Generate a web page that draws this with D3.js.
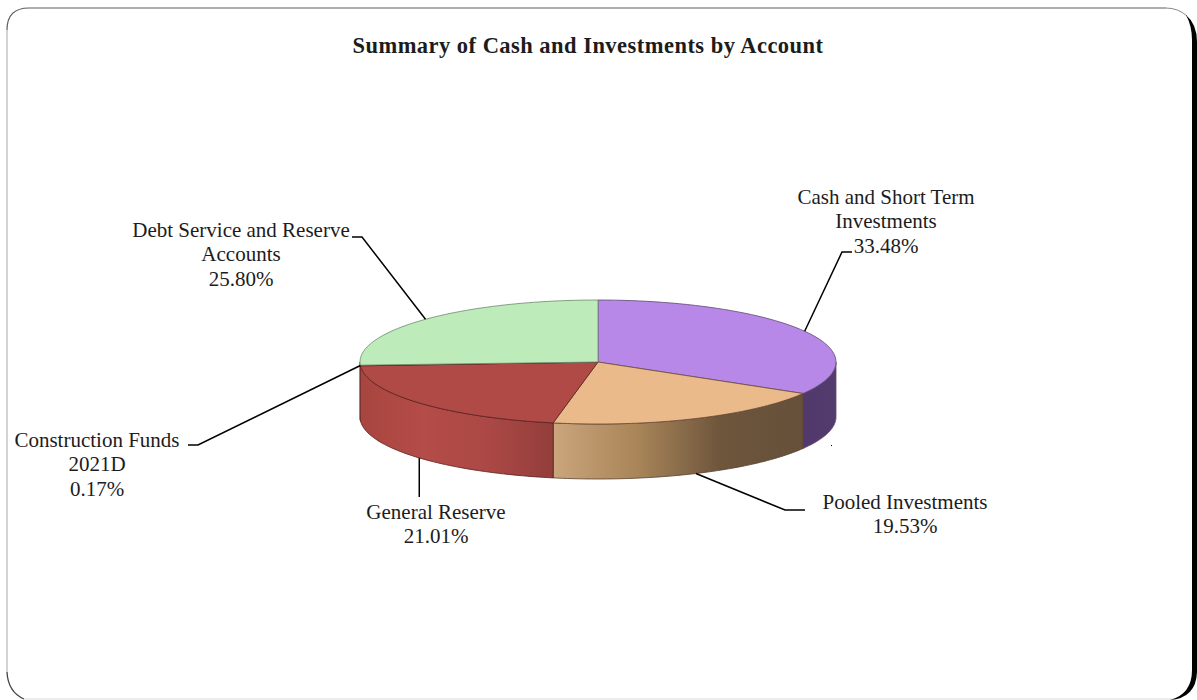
<!DOCTYPE html>
<html>
<head>
<meta charset="utf-8">
<script src="https://cdn.jsdelivr.net/npm/d3@7"></script>
<style>
    html, body { margin: 0; padding: 0; background: #fff; }
    svg { display: block; }
    text { font-family: "Liberation Serif", serif; fill: #1c1c1c; }
</style>
</head>
<body>
<div id="container"></div>
<script>
'use strict';

const w = 1197;
const h = 700;

// Values, clockwise from 12 o'clock.
const accounts = ['Cash and Short Term Investments', 'Pooled Investments', 'General Reserve', 'Construction Funds 2021D', 'Debt Service and Reserve Accounts'];
const shares = [33.48, 19.53, 21.01, 0.17, 25.80];
const labelLines = [
    ['Cash and Short Term', 'Investments', '33.48%'],
    ['Pooled Investments', '19.53%'],
    ['General Reserve', '21.01%'],
    ['Construction Funds', '2021D', '0.17%'],
    ['Debt Service and Reserve', 'Accounts', '25.80%']
];
const chartTitle = 'Summary of Cash and Investments by Account';

// Styling and label placement.
const topColors = ['#b888e9', '#ebba8b', '#b04a47', '#8f3f3d', '#bdebb9'];
const wallStops = [
    ['#52396b', '#533b6e'],
    ['#cba57c', '#a98559', '#6e563c', '#66503a'],
    ['#a8453f', '#b44c48', '#ab4845', '#933e3c'],
    ['#a8453f', '#a8453f'],
    ['#a8453f', '#a8453f']
];
const strokes = ['#5f4a70', '#6a4a35', '#5a1f1e', '#5a1f1e', '#6f8a6c'];
const wallStrokes = ['#5f4a70', '#5a4030', '#5a1f1e', '#7a3330', '#7a3330'];
const labelX = [886, 905, 436, 97, 241];
const labelY = [204, 508.5, 518.5, 447, 237];
// Elbow of each leader: outer x, inner x (null follows the slice), y.
const elbows = [[852, 842, 252], [805, 785, 510], [null, null, 497], [188, 198, 445], [352, 362, 237]];

const cx = 598;
const cy = 362;
const rx = 238;
const ry = 62;
const depth = 55;
const lineGap = 24.4;

const svg = d3.select('#container')
    .append('svg')
    .attr('width', w)
    .attr('height', h)
    .attr('viewBox', '0 0 ' + w + ' ' + h);

// Card frame: dark top, pale left and bottom, heavy right side.
const frame = svg.append('g').attr('fill', 'none');
frame.append('path').attr('d', 'M7,30 V672').attr('stroke', '#c4c4c4').attr('stroke-width', 1.5);
frame.append('path').attr('d', 'M7,30 Q7,8 29,8 H1166').attr('stroke', '#5c5c5c').attr('stroke-width', 1.2);
frame.append('path').attr('d', 'M1166,8 Q1178,8 1187,16').attr('stroke', '#888').attr('stroke-width', 1);
frame.append('path').attr('d', 'M7,672 Q8,692 24,699').attr('stroke', '#444').attr('stroke-width', 1.3);
frame.append('path').attr('d', 'M24,699 H1172').attr('stroke', '#dcdcdc').attr('stroke-width', 1.2);
svg.append('path')
    .attr('d', 'M1186,15 Q1197,24 1197,42 V672 Q1196,698 1170,700 Q1192,694 1192,670 V40 Q1192,26 1186,15 Z')
    .attr('fill', '#000');

// Title.
svg.append('text')
    .attr('x', 588)
    .attr('y', 53)
    .attr('text-anchor', 'middle')
    .attr('font-size', 22.5)
    .attr('font-weight', 'bold')
    .attr('letter-spacing', 0.47)
    .text(chartTitle);

// Pie layout: angles run clockwise from the top.
const slices = d3.pie().sort(null).value(d => d)(shares);

const xScale = d3.scaleLinear().domain([-1, 1]).range([cx - rx, cx + rx]);
const yScale = d3.scaleLinear().domain([-1, 1]).range([cy - ry, cy + ry]);

const rimPoint = (a, drop) => [xScale(Math.sin(a)), yScale(-Math.cos(a)) + (drop || 0)];
const rim = (a0, a1, drop) => d3.range(0, 61).map(i => rimPoint(a0 + (a1 - a0) * i / 60, drop));
const line = d3.line();

// Gradients for the side walls.
const defs = svg.append('defs');
wallStops.forEach((stops, i) => {
    const grad = defs.append('linearGradient').attr('id', 'wall' + i);
    stops.forEach((c, j) => {
        grad.append('stop')
            .attr('offset', j / (stops.length - 1))
            .attr('stop-color', c);
    });
});

// Side walls, only the part facing the viewer.
slices.forEach((s, i) => {
    const a0 = Math.max(s.startAngle, Math.PI / 2);
    const a1 = Math.min(s.endAngle, Math.PI * 1.5);
    if (a1 <= a0) return;
    const pts = rim(a0, a1, 0).concat(rim(a1, a0, depth));
    svg.append('path')
        .attr('d', line(pts) + 'Z')
        .attr('fill', 'url(#wall' + i + ')')
        .attr('stroke', wallStrokes[i])
        .attr('stroke-width', 1)
        .attr('stroke-opacity', 0.8);
});

// Top faces.
slices.forEach((s, i) => {
    const pts = [[cx, cy]].concat(rim(s.startAngle, s.endAngle, 0));
    svg.append('path')
        .attr('d', line(pts) + 'Z')
        .attr('fill', topColors[i])
        .attr('stroke', strokes[i])
        .attr('stroke-width', 1)
        .attr('stroke-opacity', 0.8);
});

// Leader lines start at the slice's middle angle, on the lower rim for the front slices.
const lowerRim = [false, true, true, false, false];
slices.forEach((s, i) => {
    const mid = (s.startAngle + s.endAngle) / 2;
    const start = rimPoint(mid, lowerRim[i] ? depth : 0);
    const e = elbows[i];
    const x0 = e[0] === null ? start[0] : e[0];
    const x1 = e[1] === null ? start[0] : e[1];
    svg.append('path')
        .attr('d', line([[x0, e[2]], [x1, e[2]], start]))
        .attr('fill', 'none')
        .attr('stroke', '#000')
        .attr('stroke-width', 1.5);
});

// Labels.
labelLines.forEach((lines, i) => {
    const t = svg.append('text')
        .attr('text-anchor', 'middle')
        .attr('font-size', 21)
        .attr('aria-label', accounts[i]);
    lines.forEach((l, j) => {
        t.append('tspan')
            .attr('x', labelX[i])
            .attr('y', labelY[i] + j * lineGap)
            .text(l);
    });
});

// Stray speck in the source image.
svg.append('rect').attr('x', 831).attr('y', 445).attr('width', 1).attr('height', 1).attr('fill', '#000');
</script>
</body>
</html>
